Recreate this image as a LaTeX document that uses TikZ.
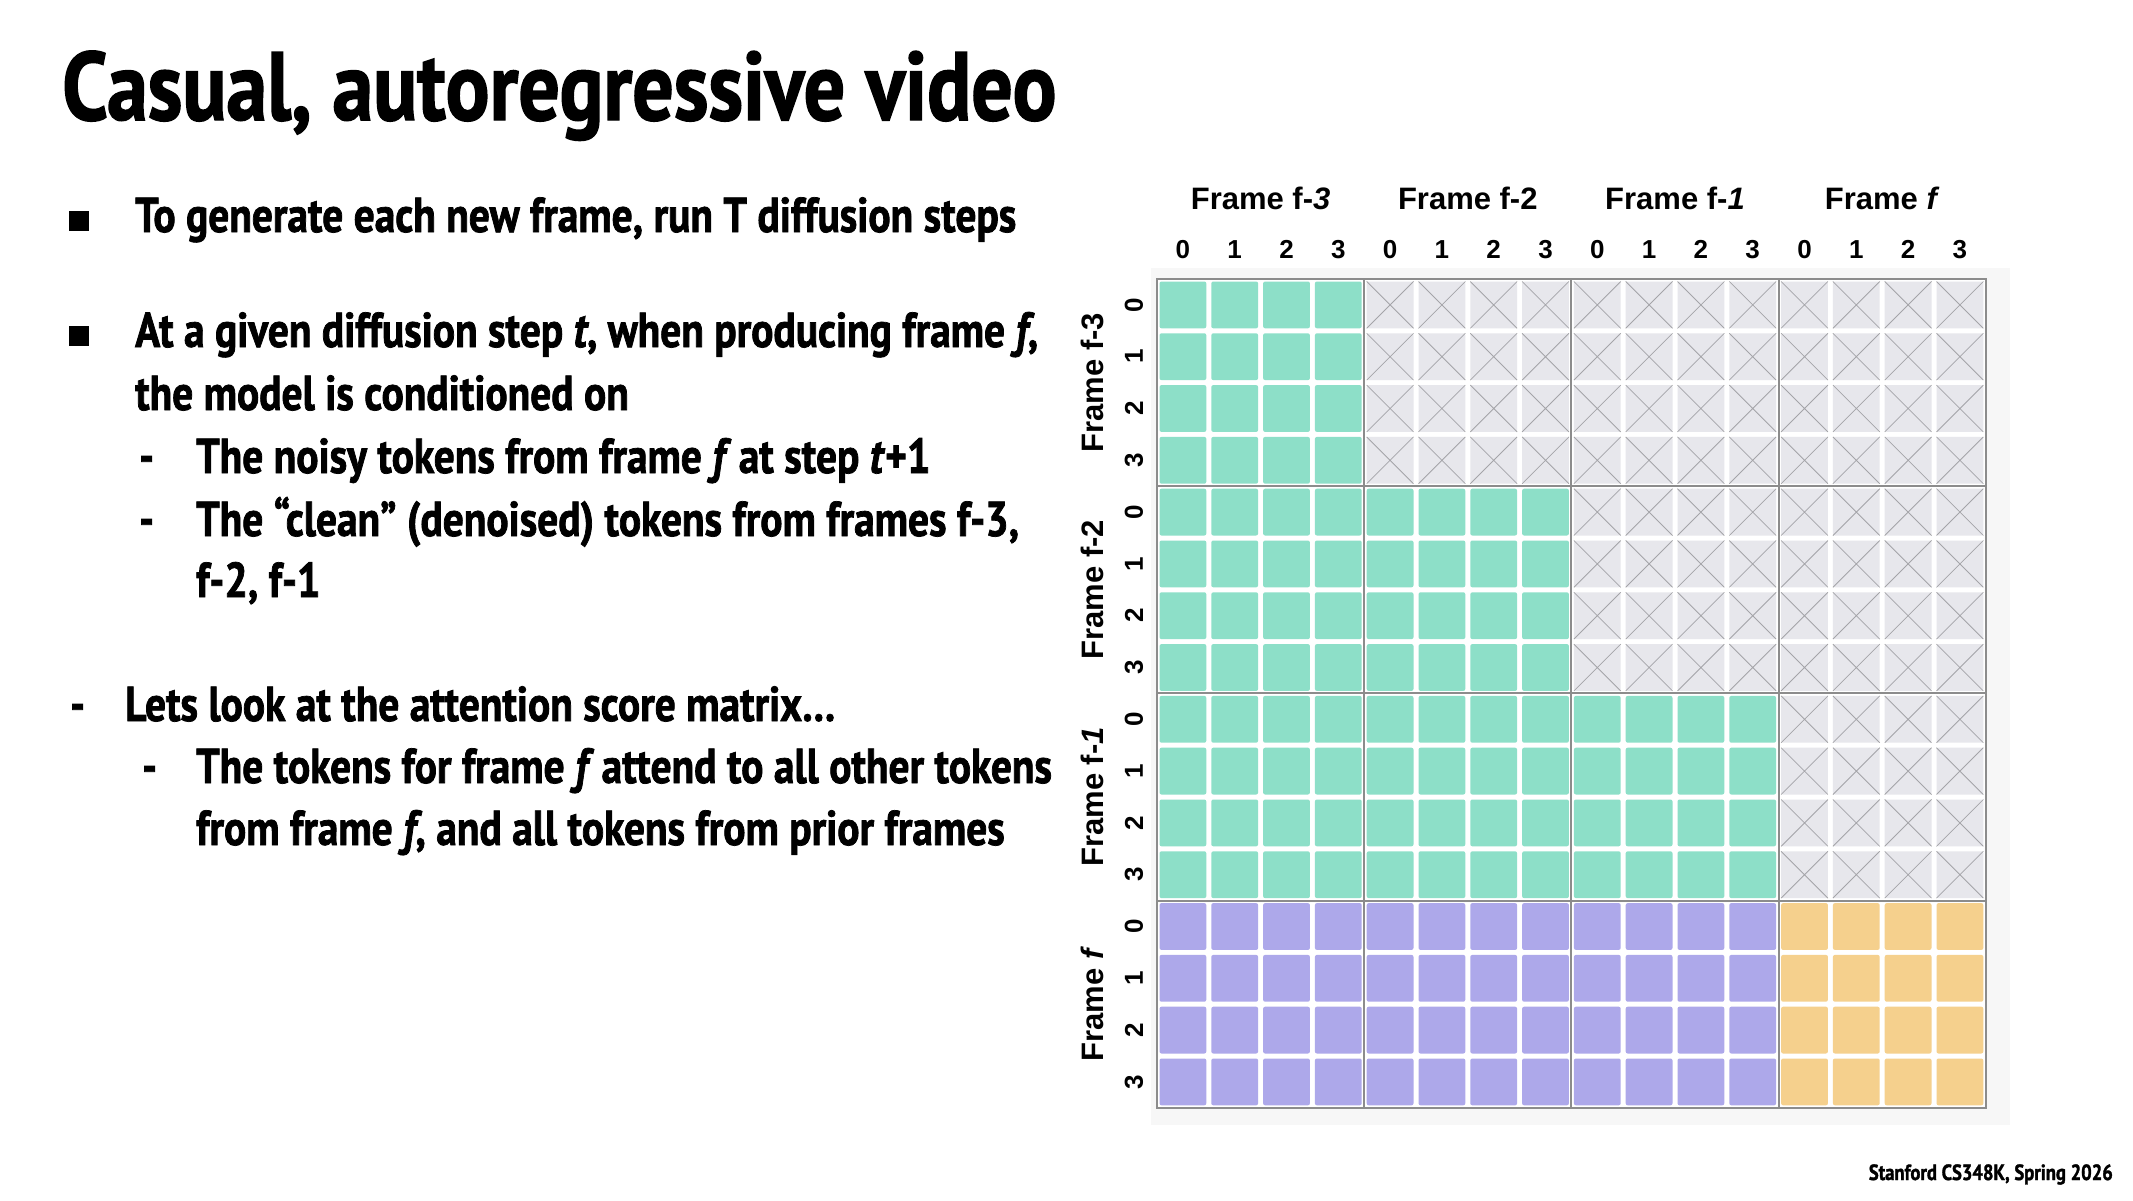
\documentclass[tikz,border=0pt]{standalone}
\usepackage{fontspec}
\newfontfamily\myr[FakeStretch=0.845, BoldFeatures={FakeBold=1.5}, BoldItalicFeatures={FakeBold=1.5}]{PT Sans}
\newfontfamily\hel{Liberation Sans}
\definecolor{cgreen}{HTML}{8DDFC8}
\definecolor{cpurple}{HTML}{ADA8EA}
\definecolor{cyellow}{HTML}{F5D08D}
\definecolor{cgray}{HTML}{E7E7EC}
\definecolor{cpanel}{HTML}{F7F7F7}
\definecolor{cgrid}{HTML}{8C8C8C}
\definecolor{cxline}{HTML}{A4A4A8}
\tikzset{
  txt/.style={anchor=base west, inner sep=0pt, font=\myr\bfseries\fontsize{49}{58}\selectfont},
  ttl/.style={anchor=base west, inner sep=0pt, font=\myr\bfseries\fontsize{97}{110}\selectfont},
  foot/.style={anchor=base east, inner sep=0pt, font=\myr\bfseries\fontsize{22}{26}\selectfont},
  bulletsq/.style={fill=black, inner sep=0pt, minimum size=20pt, draw=none},
  colhead/.style={anchor=base, inner sep=0pt, font=\hel\bfseries\fontsize{31}{36}\selectfont},
  coldig/.style={anchor=base, inner sep=0pt, font=\hel\bfseries\fontsize{26}{30}\selectfont},
  rowhead/.style={anchor=center, rotate=90, inner sep=0pt, font=\hel\bfseries\fontsize{31}{36}\selectfont},
  rowdig/.style={anchor=center, rotate=90, inner sep=0pt, font=\hel\bfseries\fontsize{26}{30}\selectfont},
  cell/.style={rounded corners=2pt},
  xline/.style={draw=cxline, line width=0.8pt},
  grpline/.style={draw=cgrid, line width=2pt},
}
\begin{document}
\begin{tikzpicture}[x=1pt,y=-1pt]
\useasboundingbox[fill=white] (0,0) rectangle (2133,1200);
% title
\node[ttl] (title) at (62,120) {Casual, autoregressive video};
% bullets
\node[bulletsq] (sq1) at (79,221) {};
\node[txt] (l1) at (135,232) {To generate each new frame, run T diffusion steps};
\node[bulletsq] (sq2) at (79,336) {};
\node[txt] (l2) at (135,347) {At a given diffusion step \textit{t}, when producing frame \textit{f},};
\node[txt] (l3) at (135,410) {the model is conditioned on};
\node[txt] (d4) at (139,473) {-};
\node[txt] (l4) at (196,473) {The noisy tokens from frame \textit{f}\kern-3pt{} at step \textit{t}+1};
\node[txt] (d5) at (139,536) {-};
\node[txt] (l5) at (196,536) {The “clean” (denoised) tokens from frames f-3,};
\node[txt] (l6) at (196,597) {f-2, f-1};
\node[txt] (d7) at (70,721) {-};
\node[txt] (l7) at (125,721) {Lets look at the attention score matrix…};
\node[txt] (d8) at (142,783) {-};
\node[txt] (l8) at (196,783) {The tokens for frame \textit{f}\kern-3pt{} attend to all other tokens};
\node[txt] (l9) at (196,845) {from frame \textit{f}, and all tokens from prior frames};
% footer
\node[foot] (footer) at (2113,1180) {Stanford CS348K, Spring 2026};
% matrix
\def\mx{1157}\def\my{279}\def\p{51.8}
\fill[cpanel] (1151,268) rectangle (2010,1125);
\fill[white] (\mx,\my) rectangle ({\mx+16*\p},{\my+16*\p});
\foreach \r in {0,...,15}{
  \foreach \c in {0,...,15}{
    \pgfmathtruncatemacro\rg{\r/4}
    \pgfmathtruncatemacro\cg{\c/4}
    \pgfmathsetmacro\xa{\mx+\c*\p+2.5}
    \pgfmathsetmacro\ya{\my+\r*\p+2.5}
    \pgfmathsetmacro\xb{\mx+(\c+1)*\p-2.5}
    \pgfmathsetmacro\yb{\my+(\r+1)*\p-2.5}
    \ifnum\rg=3
      \ifnum\cg=3
        \fill[cell,cyellow] (\xa,\ya) rectangle (\xb,\yb);
      \else
        \fill[cell,cpurple] (\xa,\ya) rectangle (\xb,\yb);
      \fi
    \else
      \ifnum\cg>\rg
        \fill[cell,cgray] (\xa,\ya) rectangle (\xb,\yb);
        \draw[xline] (\xa,\ya) -- (\xb,\yb) (\xa,\yb) -- (\xb,\ya);
      \else
        \fill[cell,cgreen] (\xa,\ya) rectangle (\xb,\yb);
      \fi
    \fi
  }
}
\foreach \i in {0,...,4}{
  \draw[grpline] ({\mx+\i*4*\p},{\my-1}) -- ({\mx+\i*4*\p},{\my+16*\p+1});
  \draw[grpline] ({\mx-1},{\my+\i*4*\p}) -- ({\mx+16*\p+1},{\my+\i*4*\p});
}
% column headers
\node[colhead] (ch0) at ({\mx+2*\p},209) {Frame f-\textit{3}};
\node[colhead] (ch1) at ({\mx+6*\p},209) {Frame f-2};
\node[colhead] (ch2) at ({\mx+10*\p},209) {Frame f-\textit{1}};
\node[colhead] (ch3) at ({\mx+14*\p},209) {Frame \textit{f}};
\foreach \c in {0,...,15}{
  \pgfmathtruncatemacro\d{mod(\c,4)}
  \node[coldig] (cd\c) at ({\mx+(\c+0.5)*\p},258) {\d};
}
% row headers
\node[rowhead] (rh0) at (1092,{\my+2*\p}) {Frame f-3};
\node[rowhead] (rh1) at (1092,{\my+6*\p}) {Frame f-2};
\node[rowhead] (rh2) at (1092,{\my+10*\p}) {Frame f-\textit{1}};
\node[rowhead] (rh3) at (1092,{\my+14*\p}) {Frame \textit{f}};
\foreach \r in {0,...,15}{
  \pgfmathtruncatemacro\d{mod(\r,4)}
  \node[rowdig] (rd\r) at (1134,{\my+(\r+0.5)*\p}) {\d};
}
\end{tikzpicture}
\end{document}
